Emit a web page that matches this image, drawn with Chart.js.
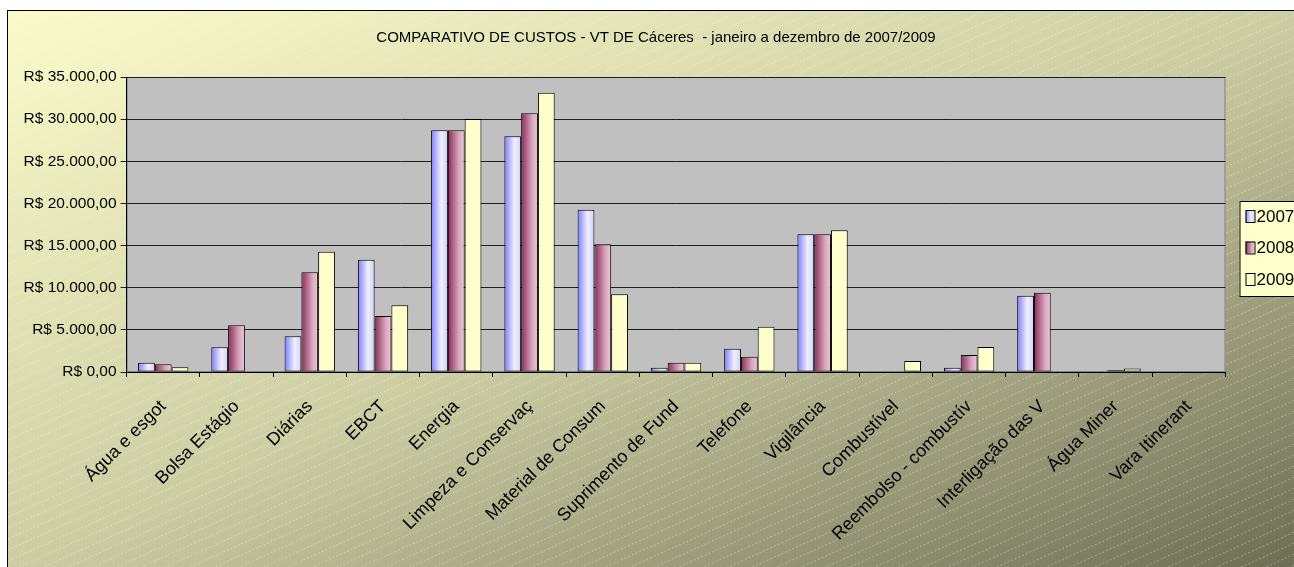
<!DOCTYPE html>
<html>
<head>
<meta charset="utf-8">
<style>
html, body { margin: 0; padding: 0; background: #fff; overflow: hidden; width: 1294px; height: 567px; }
#wrap { position: absolute; left: 7px; top: 10px; width: 1300px; height: 557px; border-left: 1px solid #000; border-top: 1px solid #000; }
canvas { display: block; }
</style>
<script src="https://cdn.jsdelivr.net/npm/chart.js@4.4.1/dist/chart.umd.min.js"></script>
</head>
<body>
<div id="wrap"><canvas id="custos" width="1296" height="556"></canvas></div>
<script>
// categorias como aparecem (cortadas) no gráfico original
const categorias = [
    'Água e esgot', 'Bolsa Estágio', 'Diárias', 'EBCT', 'Energia',
    'Limpeza e Conservaç', 'Material de Consum', 'Suprimento de Fund', 'Telefone', 'Vigilância',
    'Combustível', 'Reembolso - combustív', 'Interligação das V', 'Água Miner', 'Vara Itinerant'
];
const anos = ['2007', '2008', '2009'];
const custos2007 = [1100, 2930, 4230, 13330, 28680, 27960, 19260, 510, 2770, 16330, null, 510, 9060, null, null];
const custos2008 = [910, 5540, 11830, 6640, 28680, 30690, 15150, 1100, 1820, 16330, null, 2020, 9410, 200, null];
const custos2009 = [550, null, 14270, 7910, 30010, 33140, 9210, 1100, 5380, 16810, 1300, 2970, null, 420, null];
const yMax = 35000;
const yPasso = 5000;

const catPct = 0.687;

const paradas = [
    [[0, '#7d7dfc'], [0.6, '#f0f0ff'], [1, '#d0d0fa']],
    [[0, '#8a2a56'], [0.65, '#d8a6bd'], [1, '#ecc9d9']],
    [[0, '#ffffcc'], [1, '#ffffcc']]
];

function gradiente(ctx, x0, x1, stops) {
    const g = ctx.createLinearGradient(x0, 0, x1, 0);
    stops.forEach(s => g.addColorStop(s[0], s[1]));
    return g;
}

function corBarra(c) {
    const chart = c.chart;
    const xs = chart.scales.x;
    const stops = paradas[c.datasetIndex];
    if (!xs || !chart.chartArea) return stops[0][1];
    const centro = xs.getPixelForValue(c.dataIndex);
    const bw = xs.width / categorias.length * catPct / 3;
    const x0 = centro + (c.datasetIndex - 1.5) * bw;
    return gradiente(chart.ctx, x0, x0 + bw, stops);
}

function reais(v) {
    const s = Math.round(v).toString().replace(/\B(?=(\d{3})+(?!\d))/g, '.');
    return 'R$ ' + s + ',00';
}

const fundo = {
    id: 'fundo',
    beforeDraw(chart) {
        const ctx = chart.ctx;
        const W = chart.width, H = chart.height;
        ctx.save();
        ctx.scale(W, H);
        const g = ctx.createLinearGradient(0, 0, 1, 1);
        g.addColorStop(0, '#fbfbca');
        g.addColorStop(0.5, '#cdcda4');
        g.addColorStop(1, '#6d6d55');
        ctx.fillStyle = g;
        ctx.fillRect(0, 0, 1, 1);
        ctx.restore();

        // listras diagonais
        ctx.save();
        ctx.strokeStyle = 'rgba(255,255,255,0.33)';
        ctx.lineWidth = 1;
        ctx.setLineDash([2, 2]);
        const incl = 0.45;
        for (let c = 0; c < H + W * incl; c += 11) {
            ctx.beginPath();
            ctx.moveTo(0, c);
            ctx.lineTo(W, c - W * incl);
            ctx.stroke();
        }
        ctx.restore();

        const a = chart.chartArea;
        ctx.save();
        ctx.fillStyle = '#c0c0c0';
        ctx.fillRect(a.left, a.top, a.right - a.left, a.bottom - a.top);
        ctx.strokeStyle = '#808080';
        ctx.lineWidth = 1;
        ctx.strokeRect(a.left + 0.5, a.top + 0.5, a.right - a.left - 1, a.bottom - a.top - 1);
        ctx.restore();
    },
    afterDraw(chart) {
        // legenda no estilo do Excel
        const ctx = chart.ctx;
        const lx = chart.chartArea.right + 14, ly = 190, lh = 95;
        ctx.save();
        ctx.fillStyle = '#ffffcc';
        ctx.fillRect(lx, ly, 80, lh);
        ctx.strokeStyle = '#000';
        ctx.lineWidth = 1;
        ctx.strokeRect(lx + 0.5, ly + 0.5, 80, lh);
        ctx.font = '17px "Liberation Sans", Arial, sans-serif';
        ctx.textBaseline = 'middle';
        chart.data.datasets.forEach((ds, i) => {
            const cy = ly + 15 + i * 31.5;
            const bx = lx + 6;
            ctx.fillStyle = gradiente(ctx, bx, bx + 9, paradas[i]);
            ctx.fillRect(bx, cy - 6, 9, 12);
            ctx.strokeRect(bx + 0.5, cy - 5.5, 9, 12);
            ctx.fillStyle = '#000';
            ctx.fillText(ds.label, bx + 11, cy + 1);
        });
        ctx.restore();
    }
};

Chart.defaults.font.family = '"Liberation Sans", Arial, sans-serif';
Chart.defaults.font.size = 15;
Chart.defaults.color = '#000';

const ctx = document.getElementById('custos').getContext('2d');
const grafico = new Chart(ctx, {
    type: 'bar',
    data: {
        labels: categorias,
        datasets: [custos2007, custos2008, custos2009].map((d, i) => ({
            label: anos[i],
            data: d,
            backgroundColor: corBarra,
            borderColor: '#000',
            borderWidth: 1,
            borderSkipped: false,
            categoryPercentage: catPct,
            barPercentage: 1
        }))
    },
    options: {
        responsive: false,
        animation: false,
        layout: { padding: 0 },
        plugins: {
            legend: { display: false },
            tooltip: { enabled: false },
            title: {
                display: true,
                text: 'COMPARATIVO DE CUSTOS - VT DE Cáceres  - janeiro a dezembro de 2007/2009',
                color: '#000',
                font: { size: 15, weight: 'normal' },
                padding: { top: 18, bottom: 30 }
            }
        },
        scales: {
            x: {
                offset: true,
                grid: { drawOnChartArea: false, color: '#000', tickLength: 5, offset: true },
                border: { color: '#000' },
                ticks: { autoSkip: false, minRotation: 45, maxRotation: 45, padding: 19, font: { size: 18 } },
                afterFit(s) { s.height = 195; }
            },
            y: {
                min: 0,
                max: yMax,
                grid: { color: '#1e1e1e', tickLength: 6 },
                border: { color: '#000' },
                ticks: { stepSize: yPasso, padding: 4, font: { size: 15.5 }, callback: v => reais(v) },
                afterFit(s) { s.width = 118.6; }
            },
            // eixo vazio à direita: reserva o espaço da legenda
            espaco: {
                position: 'right',
                grid: { display: false },
                border: { display: false },
                ticks: { display: false },
                afterFit(s) { s.width = 78.5; }
            }
        }
    },
    plugins: [fundo]
});
</script>
</body>
</html>
